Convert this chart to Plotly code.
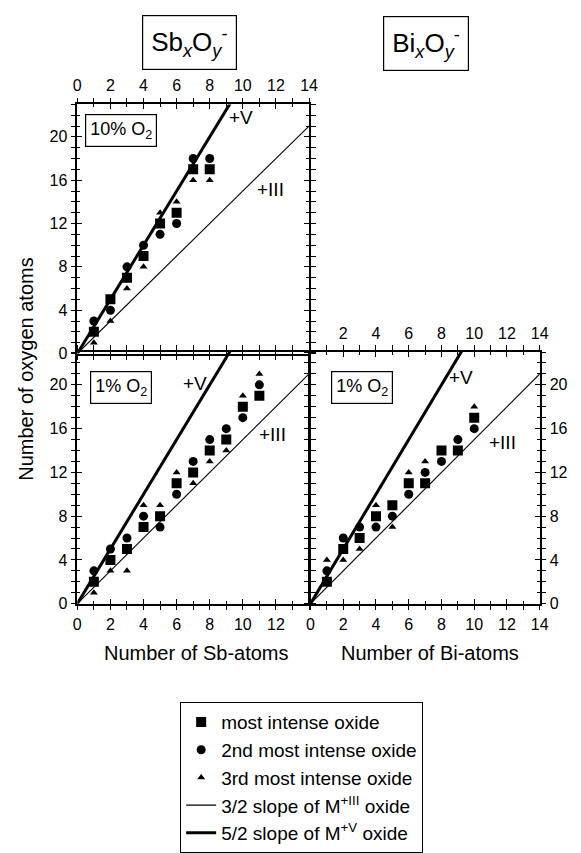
import plotly.graph_objects as go

# ---------------- data ----------------
sb10_x = [1, 2, 3, 4, 5, 6, 7, 8]
sb10_sq = [2, 5, 7, 9, 12, 13, 17, 17]
sb10_ci = [3, 4, 8, 10, 11, 12, 18, 18]
sb10_tr = [1, 3, 6, 8, 13, 14, 16, 16]

sb1_x = [1, 2, 3, 4, 5, 6, 7, 8, 9, 10, 11]
sb1_sq = [2, 4, 5, 7, 8, 11, 12, 14, 15, 18, 19]
sb1_ci = [3, 5, 6, 8, 7, 10, 13, 15, 16, 17, 20]
sb1_tr = [1, 3, 3, 9, 9, 12, 11, 13, 14, 19, 21]

bi1_x = [1, 2, 3, 4, 5, 6, 7, 8, 9, 10]
bi1_sq = [2, 5, 6, 8, 9, 11, 11, 14, 14, 17]
bi1_ci = [3, 6, 7, 7, 8, 10, 12, 13, 15, 16]
bi1_tr = [4, 4, 5, 9, 7, 12, 13, 14, 14, 18]

slope_III = 1.5
slope_V = 2.5
line_x = [0, 14]

x_ticks = [0, 2, 4, 6, 8, 10, 12, 14]
y_ticks = [0, 4, 8, 12, 16, 20]

FONT = "Liberation Sans, Arial, Helvetica, sans-serif"
W, H = 581, 853
LW = 1.5

fig = go.Figure()

panels = [
    ("x", "y", sb10_x, sb10_sq, sb10_ci, sb10_tr, True),
    ("x2", "y2", sb1_x, sb1_sq, sb1_ci, sb1_tr, False),
    ("x3", "y3", bi1_x, bi1_sq, bi1_ci, bi1_tr, False),
]

for xa, ya, xs, sq, ci, tr, leg in panels:
    fig.add_trace(go.Scatter(x=line_x, y=[slope_III * v for v in line_x], mode="lines",
                             line=dict(color="black", width=1.1), xaxis=xa, yaxis=ya,
                             name="3/2 slope of M<sup>+III</sup> oxide", showlegend=leg,
                             legendrank=4, hoverinfo="skip"))
    fig.add_trace(go.Scatter(x=line_x, y=[slope_V * v for v in line_x], mode="lines",
                             line=dict(color="black", width=3), xaxis=xa, yaxis=ya,
                             name="5/2 slope of M<sup>+V</sup> oxide", showlegend=leg,
                             legendrank=5, hoverinfo="skip"))
    fig.add_trace(go.Scatter(x=xs, y=tr, mode="markers",
                             marker=dict(symbol="triangle-up", size=7, color="black"),
                             xaxis=xa, yaxis=ya, name="3rd most intense oxide",
                             showlegend=leg, legendrank=3))
    fig.add_trace(go.Scatter(x=xs, y=ci, mode="markers",
                             marker=dict(symbol="circle", size=9, color="black"),
                             xaxis=xa, yaxis=ya, name="2nd most intense oxide",
                             showlegend=leg, legendrank=2))
    fig.add_trace(go.Scatter(x=xs, y=sq, mode="markers",
                             marker=dict(symbol="square", size=10, color="black"),
                             xaxis=xa, yaxis=ya, name="most intense oxide",
                             showlegend=leg, legendrank=1))

# pixel geometry (axis lines are drawn outside the domain by LW/2, so
# neighbouring panels overlap by LW to make shared borders a single line)
xL = [75 / W, 312 / W]
xR = [(312 + LW) / W, 548 / W]
yTop = [1 - 359 / H, 1 - 106 / H]
yBot = [1 - 613 / H, 1 - (359 - LW) / H]

tickfont = dict(family=FONT, size=16, color="black")


def xax(domain, anchor, side, tickvals, ticktext, inside=False, overlaying=None, labels=True):
    d = dict(domain=domain, anchor=anchor, range=[0, 14], side=side,
             tickmode="array", tickvals=tickvals, ticktext=ticktext,
             ticks="inside" if inside else "outside", ticklen=5, tickwidth=1.3,
             tickcolor="black", mirror="allticks",
             showline=not inside, linecolor="black", linewidth=LW,
             showgrid=False, zeroline=False, showticklabels=labels,
             tickfont=tickfont,
             minor=dict(tickvals=list(range(0, 15)), ticks="inside" if inside else "outside",
                        ticklen=3, tickwidth=1, tickcolor="black"))
    if overlaying:
        d["overlaying"] = overlaying
    return d


def yax(domain, anchor, side, tickvals, ticktext, inside=False, overlaying=None, labels=True):
    d = dict(domain=domain, anchor=anchor, range=[0, 23], side=side,
             tickmode="array", tickvals=tickvals, ticktext=ticktext,
             ticks="inside" if inside else "outside", ticklen=5, tickwidth=1.3,
             tickcolor="black", mirror="allticks",
             showline=not inside, linecolor="black", linewidth=LW,
             showgrid=False, zeroline=False, showticklabels=labels,
             tickfont=tickfont,
             minor=dict(tickvals=list(range(0, 24)), ticks="inside" if inside else "outside",
                        ticklen=3, tickwidth=1, tickcolor="black"))
    if overlaying:
        d["overlaying"] = overlaying
    return d


xt = [str(v) for v in x_ticks]
yt = [str(v) for v in y_ticks]
xt_no14 = [str(v) if v != 14 else "" for v in x_ticks]
xt_no0 = [str(v) if v != 0 else "" for v in x_ticks]

fig.update_layout(
    xaxis=xax(xL, "y", "top", x_ticks, xt),
    yaxis=yax(yTop, "x", "left", y_ticks, yt),
    xaxis2=xax(xL, "y2", "bottom", x_ticks, xt_no14),
    yaxis2=yax(yBot, "x2", "left", y_ticks, yt),
    xaxis3=xax(xR, "y3", "bottom", x_ticks, xt),
    yaxis3=yax(yBot, "x3", "right", y_ticks, yt),
    # inside tick overlays (crossing ticks)
    xaxis4=xax(xL, "y", "top", x_ticks, xt, inside=True, overlaying="x", labels=False),
    yaxis4=yax(yTop, "x", "left", y_ticks, yt, inside=True, overlaying="y", labels=False),
    xaxis5=xax(xL, "y2", "bottom", x_ticks, xt, inside=True, overlaying="x2", labels=False),
    yaxis5=yax(yBot, "x2", "left", y_ticks, yt, inside=True, overlaying="y2", labels=False),
    xaxis6=xax(xR, "y3", "bottom", x_ticks, xt, inside=True, overlaying="x3", labels=False),
    yaxis6=yax(yBot, "x3", "right", y_ticks, yt, inside=True, overlaying="y3", labels=False),
    # top labels for Bi panel
    xaxis7=xax(xR, "y3", "top", x_ticks, xt_no0, overlaying="x3"),
)

# empty traces so overlay axes are drawn
for xa, ya in [("x4", "y"), ("x", "y4"), ("x5", "y2"), ("x2", "y5"),
               ("x6", "y3"), ("x3", "y6"), ("x7", "y3")]:
    fig.add_trace(go.Scatter(x=[], y=[], xaxis=xa, yaxis=ya, showlegend=False))

ann = []
lab = dict(family=FONT, size=19, color="black")
for xr, yr, vx, vy, ix, iy in [("x", "y", 9.9, 21.8, 11.7, 15.1),
                                ("x2", "y2", 7.1, 20.1, 11.8, 15.5),
                                ("x3", "y3", 9.2, 20.7, 11.7, 14.7)]:
    ann.append(dict(x=vx, y=vy, xref=xr, yref=yr, text="+V", showarrow=False, font=lab,
                    xanchor="center", yanchor="middle"))
    ann.append(dict(x=ix, y=iy, xref=xr, yref=yr, text="+III", showarrow=False, font=lab,
                    xanchor="center", yanchor="middle"))

box_font = dict(family=FONT, size=18, color="black")
for cx, cy, txt in [(120, 133, "10% O<sub>2</sub>"), (120, 393, "1% O<sub>2</sub>"),
                    (366, 393, "1% O<sub>2</sub>")]:
    ann.append(dict(x=cx / W, y=1 - cy / H, xref="paper", yref="paper", text=txt,
                    xanchor="center", yanchor="middle",
                    showarrow=False, font=box_font, bordercolor="black", borderwidth=1.2,
                    borderpad=4, bgcolor="white"))

title_font = dict(family=FONT, size=26, color="black")
for cx, cy, txt in [(190, 43, "Sb<sub><i>x</i></sub>O<sub><i>y</i></sub><sup>-</sup>"),
                    (432, 44, "Bi<sub><i>x</i></sub>O<sub><i>y</i></sub><sup>-</sup>")]:
    ann.append(dict(x=cx / W, y=1 - cy / H, xref="paper", yref="paper", text=txt,
                    xanchor="center", yanchor="middle",
                    showarrow=False, font=title_font, bordercolor="black", borderwidth=1.2,
                    borderpad=8, bgcolor="white"))

axis_font = dict(family=FONT, size=20, color="black")
ann.append(dict(x=23 / W, y=1 - 375 / H, xref="paper", yref="paper",
                xanchor="center", yanchor="middle",
                text="Number of oxygen atoms", textangle=-90, showarrow=False, font=axis_font))
ann.append(dict(x=197 / W, y=1 - 663 / H, xref="paper", yref="paper",
                xanchor="center", yanchor="middle",
                text="Number of Sb-atoms", showarrow=False, font=axis_font))
ann.append(dict(x=436 / W, y=1 - 663 / H, xref="paper", yref="paper",
                xanchor="center", yanchor="middle",
                text="Number of Bi-atoms", showarrow=False, font=axis_font))

fig.update_layout(
    annotations=ann,
    width=W, height=H,
    margin=dict(l=0, r=0, t=0, b=0),
    paper_bgcolor="white", plot_bgcolor="rgba(0,0,0,0)",
    font=dict(family=FONT, size=15, color="black"),
    legend=dict(x=180 / W, y=1 - 713 / H, xanchor="left", yanchor="top",
                bordercolor="black", borderwidth=1.2, bgcolor="white",
                font=dict(family=FONT, size=19, color="black"),
                itemwidth=30, tracegroupgap=0, traceorder="normal"),
)

fig.write_html(
    "out.html",
    post_script="document.body.style.margin='0';document.body.style.padding='0';"
                "document.body.style.overflow='hidden';"
                "document.documentElement.style.overflow='hidden';",
)
